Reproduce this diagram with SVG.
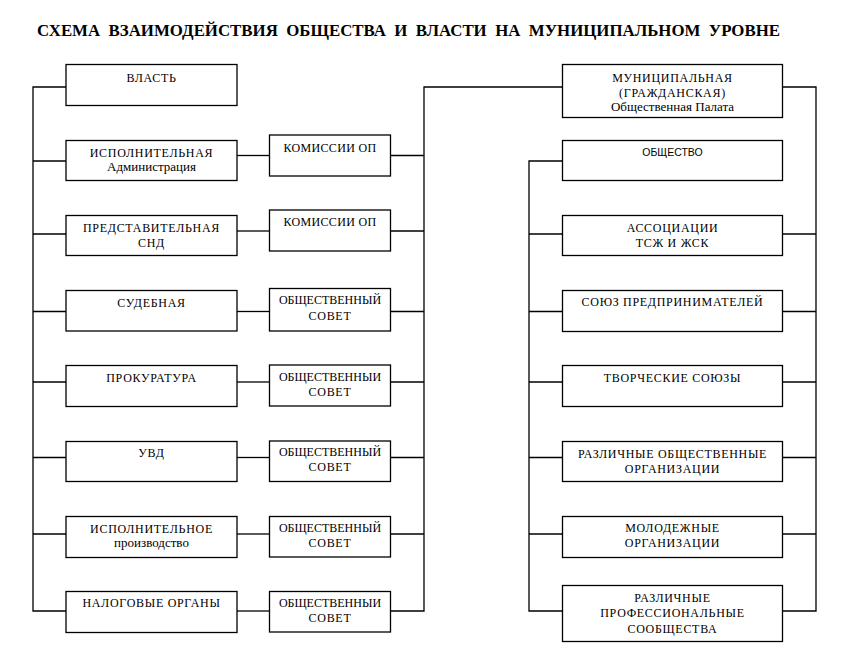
<svg xmlns="http://www.w3.org/2000/svg" width="857" height="659" viewBox="0 0 857 659">
<style>
  .box{fill:#fff;stroke:#000;stroke-width:1.3}
  .ln{fill:none;stroke:#000;stroke-width:1.3}
  text{font-family:"Liberation Serif","Times New Roman",serif;font-size:12px;fill:#000;text-anchor:middle;letter-spacing:0.7px}
  .t{font-size:16.5px;font-weight:bold;text-anchor:start;letter-spacing:0}
  .s{font-family:"Liberation Sans",Arial,sans-serif;font-size:10.5px;letter-spacing:0}
  .lc{font-size:13px;letter-spacing:0}
  .os{letter-spacing:0}
  .k{letter-spacing:0.35px}
</style>
<rect width="857" height="659" fill="#fff"/>
<text class="t" x="37" y="36" textLength="743" lengthAdjust="spacingAndGlyphs" xml:space="preserve">СХЕМА  ВЗАИМОДЕЙСТВИЯ  ОБЩЕСТВА  И  ВЛАСТИ  НА  МУНИЦИПАЛЬНОМ  УРОВНЕ</text>

<g id="connectors">
  <polyline class="ln" points="66,87 33,87 33,611 66,611"/>
  <line class="ln" x1="33" y1="161" x2="66" y2="161"/>
  <line class="ln" x1="33" y1="234" x2="66" y2="234"/>
  <line class="ln" x1="33" y1="311.5" x2="66" y2="311.5"/>
  <line class="ln" x1="33" y1="382" x2="66" y2="382"/>
  <line class="ln" x1="33" y1="457.5" x2="66" y2="457.5"/>
  <line class="ln" x1="33" y1="534" x2="66" y2="534"/>
  <line class="ln" x1="237" y1="155.5" x2="269" y2="155.5"/>
  <line class="ln" x1="237" y1="231" x2="269" y2="231"/>
  <line class="ln" x1="237" y1="311.5" x2="269" y2="311.5"/>
  <line class="ln" x1="237" y1="382" x2="269" y2="382"/>
  <line class="ln" x1="237" y1="457.5" x2="269" y2="457.5"/>
  <line class="ln" x1="237" y1="534" x2="269" y2="534"/>
  <line class="ln" x1="237" y1="611" x2="269" y2="611"/>
  <polyline class="ln" points="391,611 424,611 424,87 562,87"/>
  <line class="ln" x1="391" y1="155.5" x2="424" y2="155.5"/>
  <line class="ln" x1="391" y1="231" x2="424" y2="231"/>
  <line class="ln" x1="391" y1="311.5" x2="424" y2="311.5"/>
  <line class="ln" x1="391" y1="382" x2="424" y2="382"/>
  <line class="ln" x1="391" y1="457.5" x2="424" y2="457.5"/>
  <line class="ln" x1="391" y1="534" x2="424" y2="534"/>
  <polyline class="ln" points="782,87 816,87 816,611 782,611"/>
  <line class="ln" x1="782" y1="234" x2="816" y2="234"/>
  <line class="ln" x1="782" y1="311.5" x2="816" y2="311.5"/>
  <line class="ln" x1="782" y1="382" x2="816" y2="382"/>
  <line class="ln" x1="782" y1="457.5" x2="816" y2="457.5"/>
  <line class="ln" x1="782" y1="534" x2="816" y2="534"/>
  <polyline class="ln" points="562,161 529,161 529,611 562,611"/>
  <line class="ln" x1="529" y1="234" x2="562" y2="234"/>
  <line class="ln" x1="529" y1="311.5" x2="562" y2="311.5"/>
  <line class="ln" x1="529" y1="382" x2="562" y2="382"/>
  <line class="ln" x1="529" y1="457.5" x2="562" y2="457.5"/>
  <line class="ln" x1="529" y1="534" x2="562" y2="534"/>
</g>

<g id="vlast"><rect class="box" x="66" y="64.5" width="171" height="41"/><text x="151.5" y="82">ВЛАСТЬ</text></g>
<g id="ispoln"><rect class="box" x="66" y="140.5" width="171" height="40"/><text x="151.5" y="157">ИСПОЛНИТЕЛЬНАЯ</text><text class="lc" x="151.5" y="170.5">Администрация</text></g>
<g id="predst"><rect class="box" x="66" y="215.5" width="171" height="40"/><text x="151.5" y="231.5">ПРЕДСТАВИТЕЛЬНАЯ</text><text x="151.5" y="246.5">СНД</text></g>
<g id="sud"><rect class="box" x="66" y="290.5" width="171" height="40.5"/><text x="151.5" y="306.5">СУДЕБНАЯ</text></g>
<g id="prok"><rect class="box" x="66" y="365.5" width="171" height="41"/><text x="151.5" y="382">ПРОКУРАТУРА</text></g>
<g id="uvd"><rect class="box" x="66" y="441.5" width="171" height="40"/><text x="151.5" y="456.5">УВД</text></g>
<g id="ispproizv"><rect class="box" x="66" y="516.5" width="171" height="41"/><text x="151.5" y="532.5">ИСПОЛНИТЕЛЬНОЕ</text><text class="lc" x="151.5" y="547">производство</text></g>
<g id="nalog"><rect class="box" x="66" y="591.5" width="171" height="41"/><text x="151.5" y="607">НАЛОГОВЫЕ ОРГАНЫ</text></g>

<g id="kom1"><rect class="box" x="269.5" y="135" width="121" height="41"/><text class="k" x="330" y="151.5">КОМИССИИ ОП</text></g>
<g id="kom2"><rect class="box" x="269.5" y="210" width="121" height="41"/><text class="k" x="330" y="225.5">КОМИССИИ ОП</text></g>
<g id="os1"><rect class="box" x="269.5" y="288.5" width="121" height="42.5"/><text class="os" x="330" y="304">ОБЩЕСТВЕННЫЙ</text><text x="330" y="320">СОВЕТ</text></g>
<g id="os2"><rect class="box" x="269.5" y="365" width="121" height="41"/><text class="os" x="330" y="380.5">ОБЩЕСТВЕННЫИ</text><text x="330" y="395.5">СОВЕТ</text></g>
<g id="os3"><rect class="box" x="269.5" y="441" width="121" height="40.5"/><text class="os" x="330" y="456">ОБЩЕСТВЕННЫЙ</text><text x="330" y="471">СОВЕТ</text></g>
<g id="os4"><rect class="box" x="269.5" y="516.5" width="121" height="40.5"/><text class="os" x="330" y="531.5">ОБЩЕСТВЕННЫЙ</text><text x="330" y="546.5">СОВЕТ</text></g>
<g id="os5"><rect class="box" x="269.5" y="591.5" width="121" height="40.5"/><text class="os" x="330" y="606.5">ОБЩЕСТВЕННЫИ</text><text x="330" y="621.5">СОВЕТ</text></g>

<g id="munic"><rect class="box" x="562.5" y="64.5" width="220" height="53"/><text x="672.5" y="81.5">МУНИЦИПАЛЬНАЯ</text><text x="672.5" y="96.5">(ГРАЖДАНСКАЯ)</text><text class="lc" x="672.5" y="111">Общественная Палата</text></g>
<g id="obshestvo"><rect class="box" x="562.5" y="140.5" width="220" height="40"/><text class="s" x="672.5" y="156">ОБЩЕСТВО</text></g>
<g id="assoc"><rect class="box" x="562.5" y="215.5" width="220" height="40"/><text x="672.5" y="231.5">АССОЦИАЦИИ</text><text x="672.5" y="246.5">ТСЖ И ЖСК</text></g>
<g id="soyuz"><rect class="box" x="562.5" y="290.5" width="220" height="41"/><text x="672.5" y="306">СОЮЗ ПРЕДПРИНИМАТЕЛЕЙ</text></g>
<g id="tvorch"><rect class="box" x="562.5" y="365.5" width="220" height="41"/><text x="672.5" y="382">ТВОРЧЕСКИЕ СОЮЗЫ</text></g>
<g id="razl"><rect class="box" x="562.5" y="441.5" width="220" height="40"/><text x="672.5" y="457.5">РАЗЛИЧНЫЕ ОБЩЕСТВЕННЫЕ</text><text x="672.5" y="472.5">ОРГАНИЗАЦИИ</text></g>
<g id="molod"><rect class="box" x="562.5" y="516.5" width="220" height="41"/><text x="672.5" y="532">МОЛОДЕЖНЫЕ</text><text x="672.5" y="547">ОРГАНИЗАЦИИ</text></g>
<g id="prof"><rect class="box" x="562.5" y="585.5" width="220" height="56"/><text x="672.5" y="601.5">РАЗЛИЧНЫЕ</text><text x="672.5" y="617">ПРОФЕССИОНАЛЬНЫЕ</text><text x="672.5" y="632.5">СООБЩЕСТВА</text></g>
</svg>
